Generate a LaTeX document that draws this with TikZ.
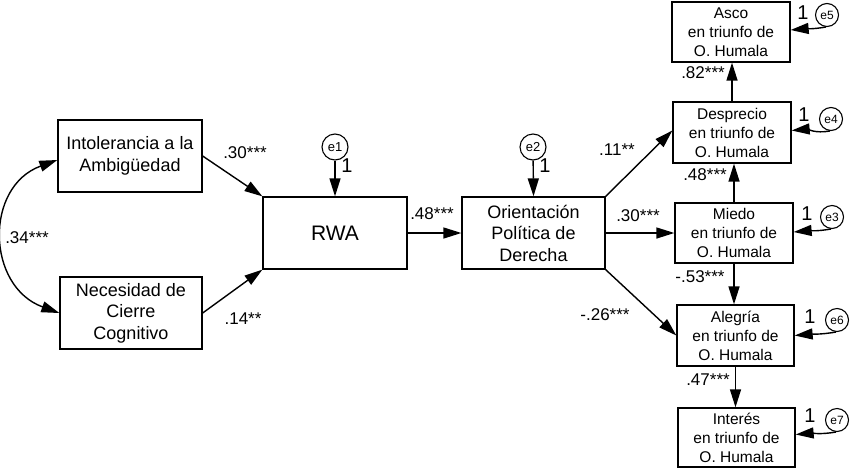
\documentclass[tikz,border=0pt]{standalone}
\usepackage{fontspec}
\setmainfont{Liberation Sans}
\usetikzlibrary{arrows.meta}
\begin{document}
\begin{tikzpicture}[x=1pt,y=1pt,
  box/.style={draw,line width=1.3pt,inner sep=0pt,align=center,font=\fontsize{18}{21.5}\selectfont},
  sbox/.style={draw,line width=1.3pt,inner sep=0pt,align=center,minimum width=118pt,minimum height=60pt,font=\fontsize{15.5}{19}\selectfont},
  err/.style={draw,circle,line width=1.1pt,inner sep=0pt,minimum size=23pt,font=\fontsize{12}{12}\selectfont},
  bigerr/.style={err,minimum size=26pt,font=\fontsize{13}{13}\selectfont},
  tip/.tip={Triangle[length=18pt,width=11pt]},
  arr/.style={line width=1.4pt,-tip},
  coef/.style={font=\fontsize{17}{17}\selectfont,inner sep=0pt},
  one/.style={font=\fontsize{20}{20}\selectfont,inner sep=0pt}]
\useasboundingbox (0,0) rectangle (850,-469);

% main boxes
\node[box,minimum width=144pt,minimum height=72pt] (intol) at (130,-156) {Intolerancia a la\\Ambigüedad};
\node[box,minimum width=142pt,minimum height=72pt] (necs) at (131,-313) {Necesidad de\\Cierre\\Cognitivo};
\node[box,minimum width=144pt,minimum height=72pt,font=\fontsize{21}{21}\selectfont] (rwa) at (335,-233) {RWA};
\node[box,minimum width=143pt,minimum height=72pt] (orient) at (533.5,-233) {Orientación\\Política de\\Derecha};

% right boxes
\node[sbox] (asco) at (731,-32) {Asco\\en triunfo de\\O. Humala};
\node[sbox,minimum height=61pt] (desp) at (732,-132.5) {Desprecio\\en triunfo de\\O. Humala};
\node[sbox] (miedo) at (734,-233) {Miedo\\en triunfo de\\O. Humala};
\node[sbox,minimum width=117pt,minimum height=61pt] (aleg) at (735.5,-335.5) {Alegría\\en triunfo de\\O. Humala};
\node[sbox,minimum width=117pt,minimum height=59pt] (inter) at (736.5,-437.5) {Interés\\en triunfo de\\O. Humala};

% error terms
\node[bigerr] (e1) at (335,-147) {e1};
\node[bigerr] (e2) at (533,-147) {e2};
\node[err] (e5) at (827,-15) {e5};
\node[err] (e4) at (831,-119) {e4};
\node[err] (e3) at (832,-217) {e3};
\node[err] (e6) at (837,-320) {e6};
\node[err] (e7) at (837,-420) {e7};

% paths
\draw[arr] (intol.east) -- (rwa.north west);
\draw[arr] (necs.east) -- (rwa.south west);
\draw[line width=1.4pt,tip-tip]
  ([yshift=-4pt]intol.west) to[out=200,in=160,looseness=1.3] (necs.west);
\draw[arr] (rwa.east) -- (orient.west);
\draw[arr] (orient.north east) -- ([yshift=2pt]desp.west);
\draw[arr] (orient.east) -- (miedo.west);
\draw[arr] (orient.south east) -- (aleg.west);
\draw[arr] (miedo.north) -- (miedo.north |- desp.south);
\draw[arr] (desp.north) -- (desp.north |- asco.south);
\draw[arr] (miedo.south) -- (miedo.south |- aleg.north);
\draw[arr] (aleg.south) -- (aleg.south |- inter.north);

\draw[arr] (e1) -- (rwa.north);
\draw[arr] (e2) -- (orient.north);
\draw[arr] (e5.265) to[out=190,in=5] ([yshift=2pt]asco.east);
\draw[arr] (e4.265) to[out=190,in=5] ([yshift=2pt]desp.east);
\draw[arr] (e3.265) to[out=190,in=5] ([yshift=1pt]miedo.east);
\draw[arr] (e6.265) to[out=190,in=5] (aleg.east);
\draw[arr] (e7.265) to[out=190,in=5] ([yshift=3pt]inter.east);

% coefficients
\node[coef] (c1) at (245,-153) {.30***};
\node[coef] (c2) at (243,-319) {.14**};
\node[coef] (c3) at (27,-238) {.34***};
\node[coef] (c4) at (432,-214) {.48***};
\node[coef] (c5) at (617,-150) {.11**};
\node[coef] (c6) at (638,-216) {.30***};
\node[coef] (c7) at (605,-315) {-.26***};
\node[coef] (c8) at (703,-73) {.82***};
\node[coef] (c9) at (705,-175) {.48***};
\node[coef] (c10) at (700,-277) {-.53***};
\node[coef] (c11) at (708,-380) {.47***};

% fixed loadings
\node[one] (o1) at (347,-166) {1};
\node[one] (o2) at (545,-166) {1};
\node[one] (o5) at (803,-13) {1};
\node[one] (o4) at (804,-115) {1};
\node[one] (o3) at (807,-214) {1};
\node[one] (o6) at (810,-317) {1};
\node[one] (o7) at (810,-416) {1};
\end{tikzpicture}
\end{document}
